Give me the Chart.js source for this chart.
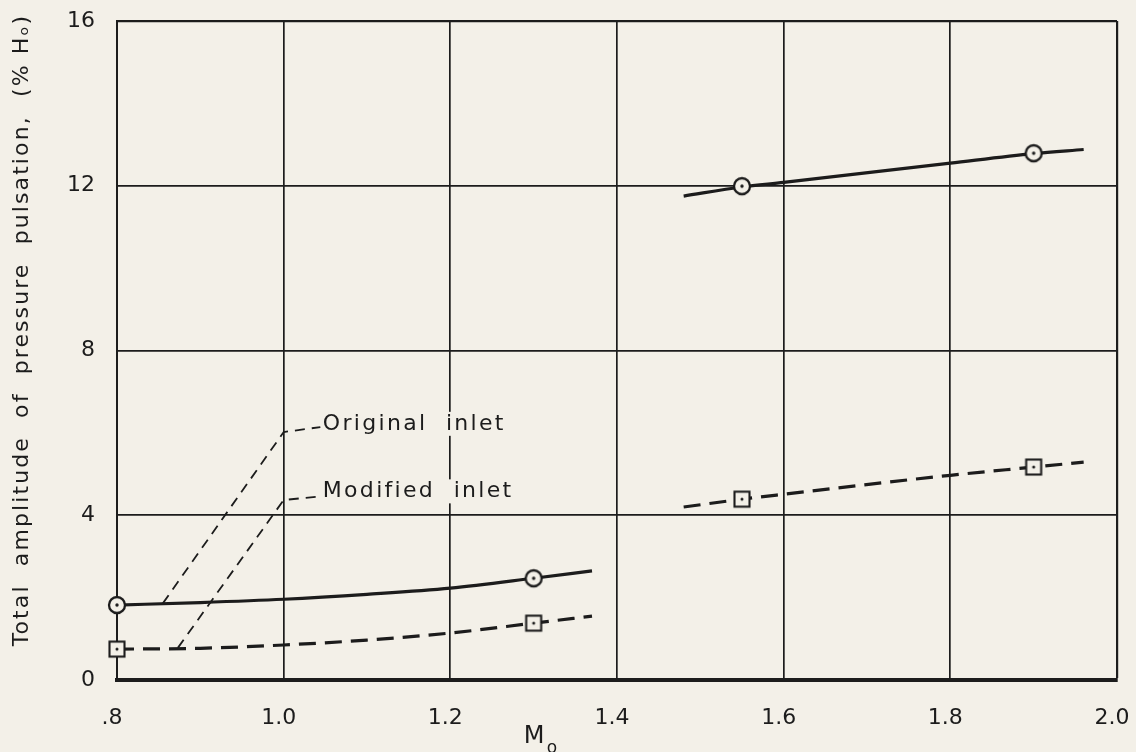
<!DOCTYPE html>
<html>
<head>
<meta charset="utf-8">
<script src="https://cdn.jsdelivr.net/npm/chart.js@4.4.1/dist/chart.umd.min.js"></script>
<style>
  html, body { margin: 0; padding: 0; background: #f3f0e8; }
  #wrap { width: 1136px; height: 752px; position: relative; }
</style>
</head>
<body>
<div id="wrap"><canvas id="c"></canvas></div>
<script>
// ---- Data ----
const xTicks = [0.8, 1.0, 1.2, 1.4, 1.6, 1.8, 2.0];
const xTickLabels = ['.8', '1.0', '1.2', '1.4', '1.6', '1.8', '2.0'];
const yTicks = [0, 4, 8, 12, 16];

// Original inlet, subsonic branch (curve)
const origLowX = [0.80, 0.90, 1.00, 1.10, 1.20, 1.30, 1.37];
const origLowY = [1.82, 1.88, 1.96, 2.08, 2.23, 2.47, 2.65];
// Original inlet, supersonic branch (curve)
const origHighX = [1.48, 1.55, 1.60, 1.80, 1.90, 1.96];
const origHighY = [11.75, 11.97, 12.08, 12.55, 12.78, 12.88];
// Original inlet measured points
const origPtsX = [0.80, 1.30, 1.55, 1.90];
const origPtsY = [1.82, 2.47, 11.99, 12.79];

// Modified inlet, subsonic branch (curve)
const modLowX = [0.80, 0.90, 1.00, 1.10, 1.20, 1.30, 1.37];
const modLowY = [0.75, 0.77, 0.85, 0.97, 1.14, 1.38, 1.55];
// Modified inlet, supersonic branch (curve)
const modHighX = [1.48, 1.55, 1.60, 1.80, 1.90, 1.96];
const modHighY = [4.20, 4.39, 4.51, 4.97, 5.17, 5.29];
// Modified inlet measured points
const modPtsX = [0.80, 1.30, 1.55, 1.90];
const modPtsY = [0.75, 1.38, 4.39, 5.17];

// Leader lines for labels
const leaderOrigX = [0.855, 1.0, 1.044];
const leaderOrigY = [1.86, 6.02, 6.14];
const leaderModX = [0.873, 1.0, 1.044];
const leaderModY = [0.78, 4.37, 4.46];

const labelTexts = ['Original  inlet', 'Modified  inlet'];
const labelX = [1.047, 1.047];
const labelY = [6.22, 4.58];

const yTitle = 'Total  amplitude  of  pressure  pulsation,  (% H\u2092)';
const xTitleMain = 'M';
const xTitleSub = 'o';

// ---- helpers ----
const BG = '#f3f0e8';
const INK = '#1c1c1c';
const pts = (xs, ys) => xs.map((x, i) => ({ x: x, y: ys[i] }));

function makeCircle() {
  const c = document.createElement('canvas');
  c.width = 22; c.height = 22;
  const g = c.getContext('2d');
  g.beginPath(); g.arc(11, 11, 8, 0, Math.PI * 2);
  g.fillStyle = BG; g.fill();
  g.lineWidth = 2.3; g.strokeStyle = INK; g.stroke();
  g.beginPath(); g.arc(11, 11, 1.7, 0, Math.PI * 2);
  g.fillStyle = INK; g.fill();
  return c;
}
function makeSquare() {
  const c = document.createElement('canvas');
  c.width = 20; c.height = 20;
  const g = c.getContext('2d');
  g.fillStyle = BG; g.fillRect(2, 2, 16, 16);
  g.lineWidth = 2.1; g.strokeStyle = INK; g.strokeRect(2.5, 2.5, 15, 15);
  g.beginPath(); g.arc(10, 10, 1.5, 0, Math.PI * 2);
  g.fillStyle = INK; g.fill();
  return c;
}

const bgPlugin = {
  id: 'bg',
  beforeDraw(chart) {
    const ctx = chart.ctx;
    ctx.save(); ctx.fillStyle = BG;
    ctx.fillRect(0, 0, chart.width, chart.height);
    ctx.restore();
  }
};

const textPlugin = {
  id: 'texts',
  afterDraw(chart) {
    const ctx = chart.ctx;
    const xs = chart.scales.x, ys = chart.scales.y;
    ctx.save();
    ctx.fillStyle = INK;
    // annotation labels
    ctx.font = '22px "DejaVu Sans"';
    ctx.letterSpacing = '2.3px';
    ctx.textBaseline = 'middle';
    ctx.textAlign = 'left';
    labelTexts.forEach((t, i) => {
      const px = xs.getPixelForValue(labelX[i]);
      const py = ys.getPixelForValue(labelY[i]);
      const w = ctx.measureText(t).width;
      ctx.fillStyle = BG;
      ctx.fillRect(px - 1, py - 12, w + 4, 24);
      ctx.fillStyle = INK;
      ctx.fillText(t, px, py);
    });
    // y title
    ctx.save();
    ctx.translate(22, 330);
    ctx.rotate(-Math.PI / 2);
    ctx.textAlign = 'center';
    ctx.font = '22px "DejaVu Sans"';
    ctx.letterSpacing = '2.1px';
    ctx.fillText(yTitle, 0, 0);
    ctx.restore();
    // x title
    ctx.letterSpacing = '0px';
    ctx.textAlign = 'center';
    ctx.font = '24px "DejaVu Sans"';
    ctx.fillText(xTitleMain, 534, 737);
    ctx.font = '17px "DejaVu Sans"';
    ctx.fillText(xTitleSub, 552, 749);
    ctx.restore();
  }
};

const lineDs = (data, dashed, width) => ({
  type: 'line',
  data: data,
  borderColor: INK,
  borderWidth: width,
  borderDash: dashed || [],
  pointRadius: 0,
  fill: false,
  cubicInterpolationMode: 'monotone',
  order: 2
});

const circleImg = makeCircle();
const squareImg = makeSquare();

new Chart(document.getElementById('c'), {
  type: 'scatter',
  data: {
    datasets: [
      { type: 'scatter', data: pts(origPtsX, origPtsY), pointStyle: circleImg, pointRadius: 10, order: 0, clip: false },
      { type: 'scatter', data: pts(modPtsX, modPtsY), pointStyle: squareImg, pointRadius: 10, order: 0, clip: false },
      lineDs(pts(origLowX, origLowY), null, 3.2),
      lineDs(pts(origHighX, origHighY), null, 3.2),
      lineDs(pts(modLowX, modLowY), [17, 9], 3.2),
      lineDs(pts(modHighX, modHighY), [17, 9], 3.2),
      Object.assign(lineDs(pts(leaderOrigX, leaderOrigY), [10, 7], 1.8), { cubicInterpolationMode: 'default', tension: 0 }),
      Object.assign(lineDs(pts(leaderModX, leaderModY), [10, 7], 1.8), { cubicInterpolationMode: 'default', tension: 0 })
    ]
  },
  options: {
    responsive: true,
    maintainAspectRatio: false,
    animation: false,
    events: [],
    layout: { padding: { top: 21, right: 19, left: 0, bottom: 0 } },
    plugins: { legend: { display: false }, tooltip: { enabled: false } },
    scales: {
      x: {
        type: 'linear', min: 0.8, max: 2.0,
        afterBuildTicks: (s) => { s.ticks = xTicks.map(v => ({ value: v })); },
        afterFit: (s) => { s.height = 72; s.paddingLeft = 0; s.paddingRight = 0; },
        ticks: {
          callback: (v, i) => xTickLabels[i],
          color: INK, font: { family: 'DejaVu Sans', size: 22 },
          padding: 25, labelOffset: -5, maxRotation: 0, autoSkip: false
        },
        grid: {
          color: INK,
          lineWidth: (c) => (c.tick && c.tick.value === 2.0) ? 2.2 : 1.7,
          drawTicks: false
        },
        border: { color: INK, width: 4 }
      },
      y: {
        type: 'linear', min: 0, max: 16,
        afterBuildTicks: (s) => { s.ticks = yTicks.map(v => ({ value: v })); },
        afterFit: (s) => { s.width = 117; s.paddingTop = 0; s.paddingBottom = 0; },
        ticks: {
          color: INK, font: { family: 'DejaVu Sans', size: 22 },
          padding: 22, autoSkip: false
        },
        grid: {
          color: INK,
          lineWidth: (c) => (c.tick && c.tick.value === 16) ? 2.2 : 1.7,
          drawTicks: false
        },
        border: { color: INK, width: 2 }
      }
    }
  },
  plugins: [bgPlugin, textPlugin]
});
</script>
</body>
</html>
